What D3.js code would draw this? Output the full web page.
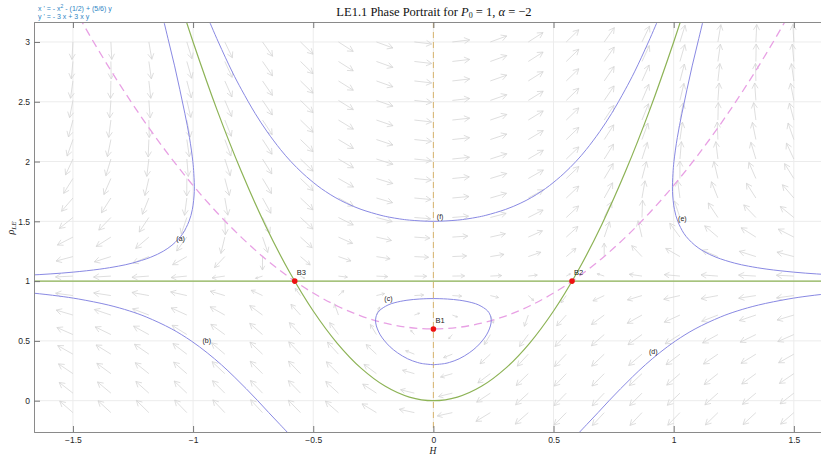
<!DOCTYPE html>
<html>
<head>
<meta charset="utf-8">
<script src="https://cdn.jsdelivr.net/npm/d3@7"></script>
<style>
  body { margin: 0; background: #fff; }
</style>
</head>
<body>
<div id="chart"></div>
<script>
// system shown in the corner: x' = -x^2 - 1/2 + (5/6) y ,  y' = -3x + 3xy
var ax2 = -1, ax0 = -0.5, axy = 5 / 6;
var by1 = -3, byxy = 3;

// quiver grid
var quiverX = [-1.5, -1.342, -1.184, -1.026, -0.868, -0.711, -0.553, -0.395, -0.237, -0.079,
               0.079, 0.237, 0.395, 0.553, 0.711, 0.868, 1.026, 1.184, 1.342, 1.5];
var quiverY = [-0.1, 0.063, 0.226, 0.389, 0.553, 0.716, 0.879, 1.042, 1.205, 1.368,
               1.532, 1.695, 1.858, 2.021, 2.184, 2.347, 2.511, 2.674, 2.837, 3.0];

// trajectories
var curveA = [[-1.794,1.04],[-1.681,1.05],[-1.595,1.06],[-1.499,1.075],[-1.388,1.1],[-1.311,1.125],[-1.254,1.15],
  [-1.176,1.2],[-1.124,1.25],[-1.088,1.3],[-1.062,1.35],[-1.042,1.4],[-1.017,1.5],[-1.003,1.6],[-0.995,1.75],
  [-0.997,1.9],[-1.001,2.0],[-1.015,2.2],[-1.034,2.4],[-1.055,2.6],[-1.077,2.8],[-1.101,3.0],[-1.125,3.2]];
var curveE = [[1.794,1.04],[1.681,1.05],[1.595,1.06],[1.499,1.075],[1.388,1.1],[1.311,1.125],[1.254,1.15],
  [1.176,1.2],[1.124,1.25],[1.088,1.3],[1.062,1.35],[1.042,1.4],[1.017,1.5],[1.003,1.6],[0.995,1.75],
  [0.997,1.9],[1.001,2.0],[1.015,2.2],[1.034,2.4],[1.055,2.6],[1.077,2.8],[1.101,3.0],[1.125,3.2]];
var curveB = [[-1.786,0.92],[-1.668,0.9],[-1.559,0.875],[-1.476,0.85],[-1.353,0.8],[-1.264,0.75],[-1.195,0.7],
  [-1.089,0.6],[-1.008,0.5],[-0.941,0.4],[-0.882,0.3],[-0.829,0.2],[-0.779,0.1],[-0.731,0.0],[-0.685,-0.1],
  [-0.638,-0.2],[-0.591,-0.3]];
var curveD = [[1.786,0.92],[1.668,0.9],[1.559,0.875],[1.476,0.85],[1.353,0.8],[1.264,0.75],[1.195,0.7],
  [1.089,0.6],[1.008,0.5],[0.941,0.4],[0.882,0.3],[0.829,0.2],[0.779,0.1],[0.731,0.0],[0.685,-0.1],
  [0.638,-0.2],[0.591,-0.3]];
var curveC = [[0,0.3005],[0.046,0.31],[0.067,0.32],[0.107,0.35],[0.149,0.4],[0.18,0.45],[0.203,0.5],[0.221,0.55],
  [0.233,0.6],[0.24,0.65],[0.239,0.7],[0.226,0.75],[0.189,0.8],[0.16,0.82],[0.11,0.84],[0.059,0.85],[0.027,0.853],
  [0,0.854],[-0.027,0.853],[-0.059,0.85],[-0.11,0.84],[-0.16,0.82],[-0.189,0.8],[-0.226,0.75],[-0.239,0.7],
  [-0.24,0.65],[-0.233,0.6],[-0.221,0.55],[-0.203,0.5],[-0.18,0.45],[-0.149,0.4],[-0.107,0.35],[-0.067,0.32],
  [-0.046,0.31],[0,0.3005]];
var curveF = [[-0.938,3.2],[-0.895,3.0],[-0.837,2.75],[-0.798,2.6],[-0.741,2.4],[-0.692,2.25],[-0.636,2.1],
  [-0.593,2.0],[-0.543,1.9],[-0.484,1.8],[-0.449,1.75],[-0.409,1.7],[-0.361,1.65],[-0.301,1.6],[-0.218,1.55],
  [-0.184,1.535],[-0.14,1.52],[-0.099,1.51],[0,1.5],[0.099,1.51],[0.14,1.52],[0.184,1.535],[0.218,1.55],
  [0.301,1.6],[0.361,1.65],[0.409,1.7],[0.449,1.75],[0.484,1.8],[0.543,1.9],[0.593,2.0],[0.636,2.1],
  [0.692,2.25],[0.741,2.4],[0.798,2.6],[0.837,2.75],[0.895,3.0],[0.938,3.2]];
var trajLabels = ["(a)", "(b)", "(c)", "(d)", "(e)", "(f)"];
var trajLabelX = [-1.052, -0.943, -0.187, 0.915, 1.036, 0.028];
var trajLabelY = [1.354, 0.499, 0.857, 0.407, 1.519, 1.537];

// separatrix parabola (green) and x-nullcline (pink dashed)
var sepX = [-1.06,-1.0,-0.9,-0.8,-0.7,-0.6,-0.5,-0.4,-0.3,-0.2,-0.1,0,0.1,0.2,0.3,0.4,0.5,0.6,0.7,0.8,0.9,1.0,1.06];
var sepY = [3.371,3.0,2.43,1.92,1.47,1.08,0.75,0.48,0.27,0.12,0.03,0,0.03,0.12,0.27,0.48,0.75,1.08,1.47,1.92,2.43,3.0,3.371];
var nullX = [-1.5,-1.4,-1.3,-1.2,-1.1,-1.0,-0.9,-0.8,-0.7,-0.6,-0.5,-0.4,-0.3,-0.2,-0.1,0,
             0.1,0.2,0.3,0.4,0.5,0.6,0.7,0.8,0.9,1.0,1.1,1.2,1.3,1.4,1.5];
var nullY = [3.3,2.952,2.628,2.328,2.052,1.8,1.572,1.368,1.188,1.032,0.9,0.792,0.708,0.648,0.612,0.6,
             0.612,0.648,0.708,0.792,0.9,1.032,1.188,1.368,1.572,1.8,2.052,2.328,2.628,2.952,3.3];

// equilibria
var eqNames = ["B1", "B2", "B3"];
var eqX = [0, 0.577, -0.577];
var eqY = [0.6, 1, 1];

var xTicks = [-1.5, -1, -0.5, 0, 0.5, 1, 1.5];
var yTicks = [0, 0.5, 1, 1.5, 2, 2.5, 3];

var W = 821, H = 454;
var pL = 34, pR = 821, pT = 22, pB = 432;
var sans = "'Liberation Sans', Arial, sans-serif";
var serif = "'Liberation Serif', 'Times New Roman', serif";

var x = d3.scaleLinear().domain([-1.662, 1.613]).range([pL, pR]);
var y = d3.scaleLinear().domain([-0.262, 3.167]).range([pB, pT]);

var svg = d3.select("#chart").append("svg")
  .attr("width", W).attr("height", H)
  .style("display", "block");
svg.append("rect").attr("width", W).attr("height", H).attr("fill", "#fff");

svg.append("defs").append("clipPath").attr("id", "clip")
  .append("rect").attr("x", pL).attr("y", pT)
  .attr("width", pR - pL).attr("height", pB - pT);

// grid
var grid = svg.append("g").attr("stroke", "#ececec").attr("stroke-width", 1);
grid.selectAll(".gx").data(xTicks).enter().append("line")
  .attr("x1", d => x(d)).attr("x2", d => x(d)).attr("y1", pT).attr("y2", pB);
grid.selectAll(".gy").data(yTicks).enter().append("line")
  .attr("y1", d => y(d)).attr("y2", d => y(d)).attr("x1", pL).attr("x2", pR);

var plot = svg.append("g").attr("clip-path", "url(#clip)");

// vector field
var pts = [];
quiverX.forEach(function(qx) {
  quiverY.forEach(function(qy) {
    var u = ax2 * qx * qx + ax0 + axy * qy;
    var v = by1 * qx + byxy * qx * qy;
    pts.push({x: qx, y: qy, u: u, v: v});
  });
});
var pxU = x(1) - x(0), pxV = y(0) - y(1);
var arrows = plot.append("g").attr("stroke", "#d6d6d6").attr("stroke-width", 0.8).attr("fill", "none");
pts.forEach(function(p) {
  var dx = p.u * pxU, dy = -p.v * pxV;
  var n = Math.sqrt(dx * dx + dy * dy);
  if (n === 0) return;
  var mag = Math.sqrt(p.u * p.u + p.v * p.v);
  var len = 17.5 * (1 - Math.exp(-mag / 0.3));
  var ux = dx / n, uy = dy / n;
  var x0 = x(p.x), y0 = y(p.y);
  var x1 = x0 + ux * len, y1 = y0 + uy * len;
  var hl = len * 0.36, a = 0.5;
  var c = Math.cos(a), s = Math.sin(a);
  var hx1 = x1 - hl * (ux * c - uy * s), hy1 = y1 - hl * (uy * c + ux * s);
  var hx2 = x1 - hl * (ux * c + uy * s), hy2 = y1 - hl * (uy * c - ux * s);
  arrows.append("path")
    .attr("d", "M" + x0 + "," + y0 + "L" + x1 + "," + y1 +
               "M" + hx1 + "," + hy1 + "L" + x1 + "," + y1 + "L" + hx2 + "," + hy2);
});

var line = d3.line().x(d => x(d[0])).y(d => y(d[1])).curve(d3.curveCatmullRom);

// x = 0 (y-nullcline) dashed
plot.append("line").attr("x1", x(0)).attr("x2", x(0)).attr("y1", pT).attr("y2", pB)
  .attr("stroke", "#d8b46e").attr("stroke-width", 1).attr("stroke-dasharray", "6,4");
// y = 1 invariant line
plot.append("line").attr("x1", pL).attr("x2", pR).attr("y1", y(1)).attr("y2", y(1))
  .attr("stroke", "#8db356").attr("stroke-width", 1.2);

// nullcline
plot.append("path").datum(nullX.map((d, i) => [d, nullY[i]]))
  .attr("d", line).attr("fill", "none").attr("stroke", "#e8a0e4")
  .attr("stroke-width", 1.3).attr("stroke-dasharray", "8,5");
// separatrix
plot.append("path").datum(sepX.map((d, i) => [d, sepY[i]]))
  .attr("d", line).attr("fill", "none").attr("stroke", "#8db356").attr("stroke-width", 1.2);

// trajectories
[curveA, curveB, curveC, curveD, curveE, curveF].forEach(function(c) {
  plot.append("path").datum(c).attr("d", line)
    .attr("fill", "none").attr("stroke", "#8989e3").attr("stroke-width", 1);
});

svg.selectAll(".tl").data(trajLabels).enter().append("text")
  .attr("x", (d, i) => x(trajLabelX[i])).attr("y", (d, i) => y(trajLabelY[i]))
  .attr("dy", "0.35em").attr("text-anchor", "middle").attr("font-family", sans)
  .attr("font-size", 7).attr("fill", "#222").text(d => d);

// equilibria
svg.selectAll(".eq").data(eqNames).enter().append("circle")
  .attr("cx", (d, i) => x(eqX[i])).attr("cy", (d, i) => y(eqY[i])).attr("r", 2.8)
  .attr("fill", "#ee1111");
svg.selectAll(".eqt").data(eqNames).enter().append("text")
  .attr("x", (d, i) => x(eqX[i]) + 2).attr("y", (d, i) => y(eqY[i]) - 6).attr("font-family", sans)
  .attr("font-size", 7.5).attr("fill", "#222").text(d => d);

// axes
var gx = svg.append("g").attr("transform", "translate(0," + pB + ")")
  .call(d3.axisBottom(x).tickValues(xTicks).tickSize(-6).tickPadding(5).tickFormat(d3.format("")));
var gxt = svg.append("g").attr("transform", "translate(0," + pT + ")")
  .call(d3.axisTop(x).tickValues(xTicks).tickSize(-6).tickFormat(""));
var gy = svg.append("g").attr("transform", "translate(" + pL + ",0)")
  .call(d3.axisLeft(y).tickValues(yTicks).tickSize(-6).tickPadding(4).tickFormat(d3.format("")));
[gx, gxt, gy].forEach(function(g) {
  g.select(".domain").attr("stroke", "#8a8a8a");
  g.selectAll(".tick line").attr("stroke", "#777");
  g.selectAll(".tick text").attr("font-size", 8.5).attr("fill", "#262626")
    .attr("font-family", sans);
});

// title
var title = svg.append("text").attr("x", 434).attr("y", 16).attr("text-anchor", "middle")
  .attr("font-family", serif).attr("font-size", 12.5).attr("fill", "#111");
title.append("tspan").text("LE1.1 Phase Portrait for ");
title.append("tspan").attr("font-style", "italic").text("P");
title.append("tspan").attr("font-size", 8).attr("dy", 2).text("0");
title.append("tspan").attr("dy", -2).text(" = 1, ");
title.append("tspan").attr("font-style", "italic").text("α");
title.append("tspan").text(" = −2");

// equation text
var eq = svg.append("g").attr("fill", "#2f86c4").attr("font-size", 7).attr("font-family", sans);
var e1 = eq.append("text").attr("x", 38).attr("y", 11);
e1.append("tspan").text("x ' = - x");
e1.append("tspan").attr("font-size", 5).attr("dy", -3).text("2");
e1.append("tspan").attr("dy", 3).text(" - (1/2) + (5/6) y");
eq.append("text").attr("x", 38).attr("y", 19).text("y ' = - 3 x + 3 x y");

// axis labels
svg.append("text").attr("x", 433).attr("y", 453.5).attr("text-anchor", "middle")
  .attr("font-family", serif).attr("font-style", "italic")
  .attr("font-size", 9.5).attr("fill", "#222").text("H");
var yl = svg.append("text").attr("transform", "translate(14,228) rotate(-90)")
  .attr("text-anchor", "middle").attr("font-family", serif)
  .attr("font-style", "italic").attr("font-size", 10).attr("fill", "#222");
yl.append("tspan").text("ρ");
yl.append("tspan").attr("font-size", 7).attr("dy", 2).text("LE");
</script>
</body>
</html>
